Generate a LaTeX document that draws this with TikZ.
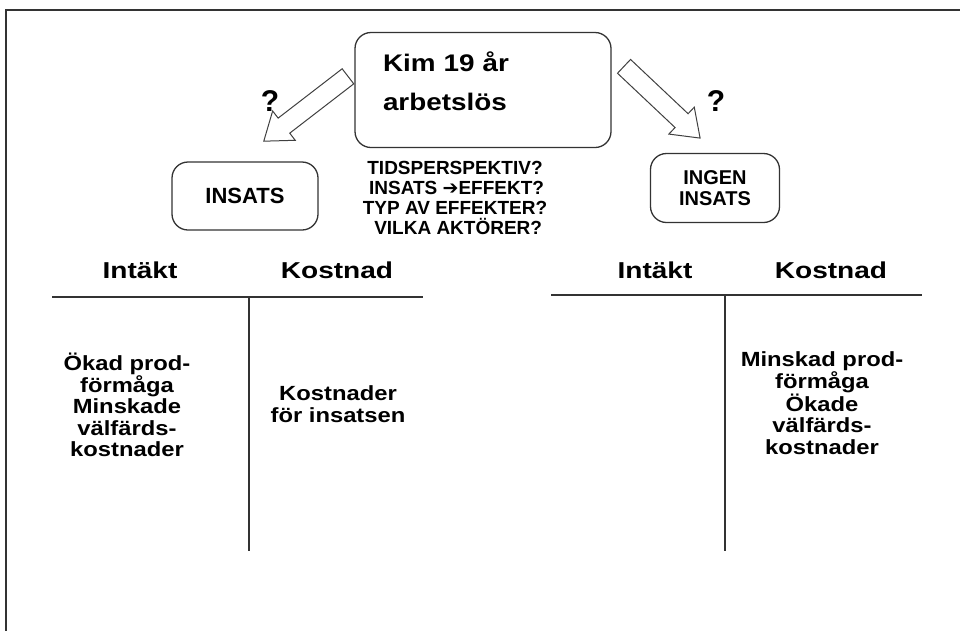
\documentclass[tikz,border=0pt]{standalone}
\usepackage{fontspec}
\setmainfont{Liberation Sans}
\newfontfamily\widefont[FakeStretch=1.16]{Liberation Sans}
\newfontfamily\headfont[FakeStretch=1.22]{Liberation Sans}
\newfontfamily\arrowfont{DejaVu Sans}
\usetikzlibrary{calc}
\usetikzlibrary{shapes.arrows}

\begin{document}
\begin{tikzpicture}[x=1pt,y=-1pt]

    \tikzstyle{frame line}=[line width=1.3pt,color=black!80]
    \tikzstyle{account line}=[line width=1.8pt,color=black!80]
    \tikzstyle{box}=[draw=black!80,line width=1.3pt,rounded corners=16pt,inner sep=0pt]
    \tikzstyle{hollow arrow}=[draw=black!75,line width=1pt,single arrow,inner xsep=0pt,inner ysep=9pt,
        single arrow head extend=9pt,single arrow tip angle=72,anchor=tail]
    \tikzstyle{question}=[font=\bfseries\fontsize{30}{30}\selectfont]
    \tikzstyle{heading}=[font=\bfseries\headfont\fontsize{23}{23}\selectfont]
    \tikzstyle{column text}=[align=center,font=\bfseries\widefont\fontsize{20.5}{21.5}\selectfont]
    \useasboundingbox (0,0) rectangle (960,630);

    % Frame
    \draw[style=frame line] (6,632) -- (6,10) -- (962,10);

    % Start box and the two choices
    \node[style=box,text width=200pt,align=left,inner xsep=28pt,minimum height=115pt,
        font=\bfseries\widefont\fontsize{24}{30}\selectfont] (kim) at (483,90)
        {\raisebox{5pt}[\height][\depth]{\begin{tabular}{@{}l@{}}Kim 19 år\\[9pt]arbetslös\end{tabular}}};
    \node[style=box,minimum width=146pt,minimum height=68pt,
        font=\bfseries\fontsize{22}{22}\selectfont] (insats) at (245,196) {INSATS};
    \node[style=box,minimum width=129pt,minimum height=69pt,align=center,
        font=\bfseries\fontsize{20}{21}\selectfont] (ingen) at (715,188) {INGEN\\INSATS};

    % Arrows out of the start box
    \coordinate (kimleft) at ($(kim.west)+(-6,-14)$);
    \coordinate (kimright) at ($(kim.east)+(12,-24)$);
    \coordinate (leftend) at (264,141);
    \coordinate (rightend) at (700,138);
    \path let \p1 = ($(leftend)-(kimleft)$) in
        node[style=hollow arrow,rotate={atan2(\y1,\x1)},minimum height={veclen(\x1,\y1)}] (toinsats) at (kimleft) {};
    \path let \p1 = ($(rightend)-(kimright)$) in
        node[style=hollow arrow,rotate={atan2(\y1,\x1)},minimum height={veclen(\x1,\y1)}] (toingen) at (kimright) {};
    \node[style=question] (qleft) at (270,101) {?};
    \node[style=question] (qright) at (716,101) {?};

    % Questions in the middle
    \node[align=center,font=\bfseries\fontsize{19}{20.3}\selectfont] (questions) at (455,198)
        {TIDSPERSPEKTIV?\\
         \,INSATS {\arrowfont\fontsize{19}{19}\selectfont\bfseries ➔}EFFEKT?\\
         TYP AV EFFEKTER?\\
         \,\,VILKA AKTÖRER?};

    % Account for INSATS
    \node[style=heading] (intaktL) at (140,270) {Intäkt};
    \node[style=heading] (kostnadL) at (337,270) {Kostnad};
    \draw[style=account line] (52,297) -- (423,297);
    \draw[style=account line] (249,297) -- (249,551);
    \node[style=column text] (plusL) at (127,405)
        {Ökad prod-\\förmåga\\Minskade\\välfärds-\\kostnader};
    \node[style=column text] (minusL) at (338,404) {Kostnader\\för insatsen};

    % Account for INGEN INSATS
    \node[style=heading] (intaktR) at (655,270) {Intäkt};
    \node[style=heading] (kostnadR) at (831,270) {Kostnad};
    \draw[style=account line] (551,295) -- (922,295);
    \draw[style=account line] (725,295) -- (725,551);
    \node[style=column text] (minusR) at (822,403)
        {Minskad prod-\\förmåga\\Ökade\\välfärds-\\kostnader};

\end{tikzpicture}
\end{document}
